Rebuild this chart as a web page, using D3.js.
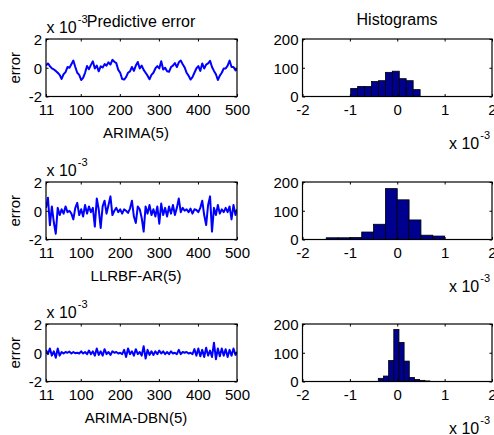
<!DOCTYPE html>
<html><head><meta charset="utf-8">
<script src="https://cdn.jsdelivr.net/npm/d3@7"></script>
<style>
body{margin:0;background:#fff}
svg{display:block}
text{font-family:"Liberation Sans",Arial,Helvetica,sans-serif;fill:#000}
</style>
</head><body>
<svg id="c" width="494" height="435"></svg>
<script>
// ---------- data (errors in units of 1e-3) ----------
const timeIndex = d3.range(11, 500, 5).concat([500]);
const arimaErr = [0.15,0.3,0.12,-0.05,-0.12,-0.22,-0.35,-0.5,-0.78,-0.45,-0.3,0.05,0.0,0.25,0.5,0.05,-0.35,-0.5,-0.85,-0.7,
  -0.35,0.12,-0.1,0.2,0.45,-0.05,0.15,-0.25,0.1,0.02,0.25,0.15,0.38,0.22,0.55,0.42,0.32,-0.15,-0.35,-0.78,
  -0.82,-0.65,-0.35,-0.25,0.05,-0.22,0.15,0.4,-0.05,0.15,-0.15,-0.35,-0.55,-0.8,-0.5,-0.35,-0.05,0.12,-0.05,0.45,
  -0.12,0.0,-0.25,-0.28,0.05,0.15,0.32,0.05,0.38,0.5,0.25,0.02,-0.35,-0.55,-0.82,-0.65,-0.35,-0.05,0.12,-0.22,
  0.3,-0.05,0.22,0.3,0.48,0.05,-0.22,-0.45,-0.85,-0.55,-0.35,-0.05,-0.05,0.15,0.5,0.05,0.05,-0.18,-0.1];
const llrbfErr = [0.2,0.9,-1.0,0.3,-0.8,-1.6,0.2,-0.3,0.1,-0.2,0.3,-0.1,0.0,-0.2,-0.6,0.2,0.55,-0.3,0.1,-0.4,
  0.4,-0.2,0.3,-0.1,0.2,-1.1,0.85,0.1,-1.2,0.3,0.7,-0.2,0.4,1.0,-0.3,0.0,0.2,-0.1,0.1,-0.2,
  0.1,0.0,-0.15,0.15,0.7,-0.4,-0.85,0.3,0.1,-0.5,-1.45,0.3,-0.2,0.4,-0.3,0.1,-0.4,0.3,-0.9,0.5,
  -0.3,0.2,-0.4,0.3,-0.2,0.4,-0.3,0.2,0.85,-0.1,0.2,0.0,0.1,-0.1,0.15,-0.2,0.1,0.05,-0.1,0.2,
  0.7,-0.3,-1.0,0.4,1.0,-1.45,0.2,-0.3,0.4,-0.2,0.1,-0.1,0.2,-0.1,0.3,-0.6,0.4,-0.3,0.1];
const dbnErr = [0.2,-0.1,0.3,-0.2,0.1,-0.35,0.3,-0.2,0.05,-0.05,0.05,0.0,0.08,-0.05,0.05,-0.03,0.0,-0.05,0.1,-0.05,
  0.05,-0.1,0.15,-0.1,0.1,-0.2,0.3,-0.15,0.1,-0.2,0.25,-0.1,0.05,-0.15,0.1,0.0,0.05,-0.05,0.0,-0.1,
  0.2,-0.3,0.3,-0.1,0.1,-0.2,0.25,-0.1,0.05,-0.2,0.45,-0.4,0.2,-0.15,0.1,-0.15,0.1,-0.1,0.15,-0.05,
  0.1,-0.1,0.05,-0.1,0.1,-0.05,0.0,-0.1,0.2,-0.1,0.05,0.0,0.05,-0.05,0.0,-0.1,0.25,-0.2,0.3,-0.25,
  0.2,-0.3,0.35,-0.2,0.15,-0.3,0.7,-0.45,0.3,-0.25,0.3,-0.2,0.25,-0.3,0.2,-0.2,0.3,-0.15,0.05];

const modelNames = ["ARIMA(5)", "LLRBF-AR(5)", "ARIMA-DBN(5)"];
const hist1Edges = [-0.983,-0.836,-0.69,-0.543,-0.397,-0.25,-0.104,0.043,0.189,0.336,0.483];
const hist1Counts = [28,35,35,52,55,84,88,62,55,24];
const hist2Edges = [-1.5,-1.25,-1.0,-0.75,-0.5,-0.25,0.0,0.25,0.5,0.75,1.0];
const hist2Counts = [6,6,7,26,53,177,138,68,15,12];
const hist3Edges = [-0.40,-0.291,-0.182,-0.073,0.036,0.145,0.254,0.363,0.472,0.581,0.69];
const hist3Counts = [11,19,73,181,136,71,14,7,4,2];

const errXTicks = [11,100,200,300,400,500];
const errYTicks = [-2,0,2];
const histXTicks = [-2,-1,0,1,2];
const histYTicks = [0,100,200];

// ---------- layout ----------
const svg = d3.select("#c");
const rowTops = [39, 182, 324];
const plotH = 57.5;
const L = {x0: 46, x1: 237};
const R = {x0: 302.5, x1: 492};
const FS = 15;
const plain = d => String(d);

const seriesList = [arimaErr, llrbfErr, dbnErr];
const histList = [[hist1Edges, hist1Counts],[hist2Edges, hist2Counts],[hist3Edges, hist3Counts]];

function sup(g, x, y, base, exp) {
  const t = g.append("text").attr("x", x).attr("y", y).style("font-size", "16px");
  t.append("tspan").text(base);
  t.append("tspan").attr("dx", 1).attr("dy", -10).style("font-size", "11px").text(exp);
}

function frame(g, xs, ys, xTickVals, yTickVals) {
  const top = ys.range()[1], bot = ys.range()[0];
  const tl = 2.5;
  const ax = g.append("g").attr("transform", `translate(0,${bot})`)
    .call(d3.axisBottom(xs).tickValues(xTickVals).tickSize(-tl).tickSizeOuter(0).tickFormat(plain));
  const axT = g.append("g").attr("transform", `translate(0,${top})`)
    .call(d3.axisTop(xs).tickValues(xTickVals).tickSize(-tl).tickSizeOuter(0).tickFormat(""));
  const ay = g.append("g").attr("transform", `translate(${xs.range()[0]},0)`)
    .call(d3.axisLeft(ys).tickValues(yTickVals).tickSize(-tl).tickSizeOuter(0).tickPadding(4).tickFormat(plain));
  const ayR = g.append("g").attr("transform", `translate(${xs.range()[1]},0)`)
    .call(d3.axisRight(ys).tickValues(yTickVals).tickSize(-tl).tickSizeOuter(0).tickFormat(""));
  [ax, axT, ay, ayR].forEach(a => {
    a.select(".domain").remove();
    a.selectAll("line").attr("stroke", "#000").attr("stroke-width", 1);
    a.selectAll("text").style("font-size", FS + "px").attr("font-family", null);
  });
  ax.selectAll("text").attr("dy", null).attr("y", 18.5);
  ay.selectAll("text").attr("dy", "0.36em");
  g.append("rect").attr("x", xs.range()[0]).attr("y", top)
    .attr("width", xs.range()[1] - xs.range()[0]).attr("height", bot - top)
    .attr("fill", "none").attr("stroke", "#000").attr("stroke-width", 1.2);
}

rowTops.forEach((top, i) => {
  const bot = top + plotH;
  // ---- left: predictive error ----
  const gl = svg.append("g");
  const x = d3.scaleLinear().domain([11, 500]).range([L.x0, L.x1]);
  const y = d3.scaleLinear().domain([-2, 2]).range([bot, top]);
  const clipId = "clip" + i;
  gl.append("clipPath").attr("id", clipId).append("rect")
    .attr("x", L.x0).attr("y", top).attr("width", L.x1 - L.x0).attr("height", plotH);
  const line = d3.line().x((d, k) => x(timeIndex[k])).y(d => y(d));
  gl.append("path").datum(seriesList[i]).attr("d", line)
    .attr("fill", "none").attr("stroke", "#0000ff").attr("stroke-width", 2)
    .attr("stroke-linejoin", "round").attr("clip-path", `url(#${clipId})`);
  frame(gl, x, y, errXTicks, errYTicks);
  gl.append("text").attr("x", 136).attr("y", bot + 41).attr("text-anchor", "middle")
    .style("font-size", FS + "px").text(modelNames[i]);
  gl.append("text").attr("transform", `translate(20,${(top + bot) / 2}) rotate(-90)`)
    .attr("text-anchor", "middle").style("font-size", FS + "px").text("error");
  sup(gl, 46.5, top - 6, "x 10", "-3");

  // ---- right: histogram ----
  const gr = svg.append("g");
  const hx = d3.scaleLinear().domain([-2, 2]).range([R.x0, R.x1]);
  const hy = d3.scaleLinear().domain([0, 200]).range([bot, top]);
  const [edges, counts] = histList[i];
  gr.selectAll("rect.bar").data(counts).enter().append("rect").attr("class", "bar")
    .attr("x", (d, k) => hx(edges[k])).attr("width", (d, k) => hx(edges[k + 1]) - hx(edges[k]))
    .attr("y", d => hy(d)).attr("height", d => hy(0) - hy(d))
    .attr("fill", "#00008f").attr("stroke", "#000").attr("stroke-width", 0.8);
  frame(gr, hx, hy, histXTicks, histYTicks);
  sup(gr, 449, bot + 52, "x 10", "-3");
});

// titles
svg.append("text").attr("x", 141).attr("y", 27).attr("text-anchor", "middle")
  .style("font-size", "16px").text("Predictive error");
svg.append("text").attr("x", 397).attr("y", 25).attr("text-anchor", "middle")
  .style("font-size", "16px").text("Histograms");
</script>
</body></html>
